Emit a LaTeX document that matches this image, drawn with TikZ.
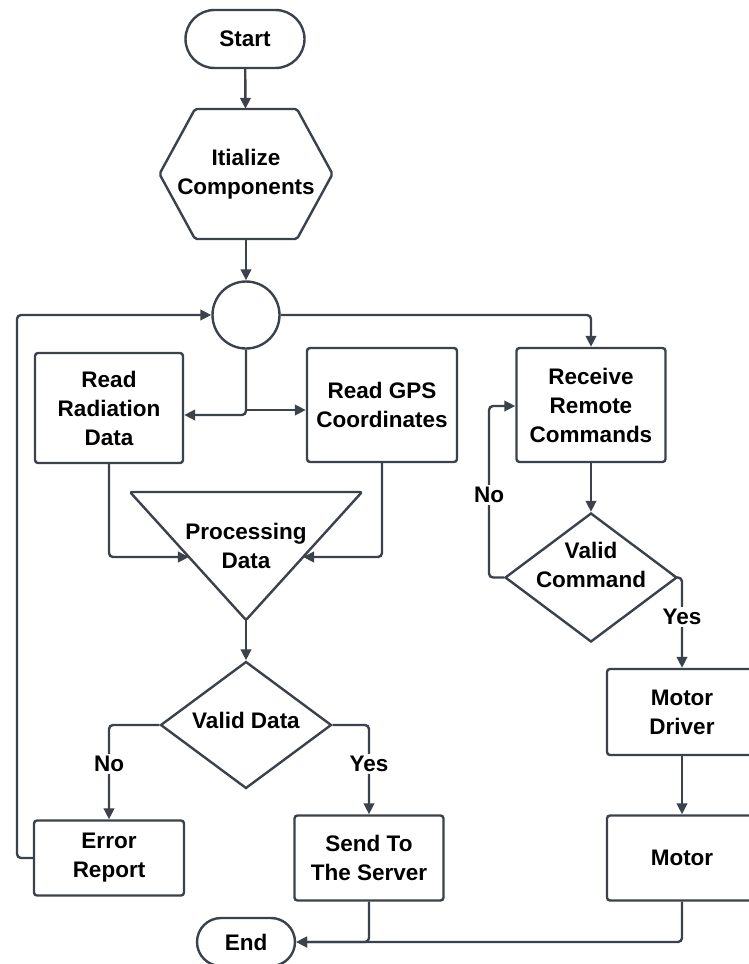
\documentclass[tikz,border=0pt]{standalone}
\usepackage{fontspec}
\setmainfont{Liberation Sans}
\usetikzlibrary{shapes.geometric,shapes.misc,arrows.meta,calc}
\definecolor{ln}{HTML}{3B424B}
\begin{document}
\begin{tikzpicture}[x=1pt,y=-1pt,
  every node/.style={font=\bfseries\fontsize{22.5}{29}\selectfont, text=black, align=center},
  line/.style={draw=ln, line width=2.4pt, rounded corners=4pt},
  arr/.style={line, -{Triangle[length=11pt,width=10.5pt]}},
  box/.style={draw=ln, line width=2.4pt, rounded corners=3pt, inner sep=0pt},
  term/.style={draw=ln, line width=2.4pt, rounded rectangle, inner sep=0pt},
  dia/.style={draw=ln, line width=2.4pt, diamond, inner sep=0pt},
  lbl/.style={fill=white, inner sep=2pt}
]
\useasboundingbox[fill=white] (0,0) rectangle (749,964);

% nodes
\node[term, minimum width=119pt, minimum height=58pt] (start) at (245,39) {Start};
\node[inner sep=0pt, minimum height=130pt] (init) at (246,174) {Itialize\\Components};
\draw[draw=ln, line width=2.4pt, rounded corners=2pt, line join=round]
  ($(init.center)+(-51,-65)$) -- ($(init.center)+(51,-65)$) -- ($(init.center)+(86.5,0)$)
  -- ($(init.center)+(51,65)$) -- ($(init.center)+(-51,65)$) -- ($(init.center)+(-86.5,0)$) -- cycle;
\node[circle, draw=ln, line width=2.4pt, minimum size=67pt, inner sep=0pt] (hub) at (246,315) {};

\node[box, minimum width=148pt, minimum height=110pt] (rad) at (109,408) {Read\\Radiation\\Data};
\node[box, minimum width=150pt, minimum height=114pt] (gps) at (382,405) {Read GPS\\Coordinates};
\node[box, minimum width=149pt, minimum height=114pt] (recv) at (591,405) {Receive\\Remote\\Commands};

\coordinate (tA) at (130,492);
\coordinate (tB) at (362,492);
\coordinate (tC) at (246,620);
\draw[draw=ln, line width=2.4pt, rounded corners=2pt, line join=round] (tA) -- (tB) -- (tC) -- cycle;
\node (proc) at (246,546) {Processing\\Data};

\node[dia, minimum width=171pt, minimum height=127pt, label={[yshift=5pt]center:Valid Data}] (vd) at (246,725) {};
\node[dia, minimum width=172pt, minimum height=129pt, label={[yshift=13pt]center:Valid\\Command}] (vc) at (591,577.5) {};

\node[box, minimum width=150pt, minimum height=75pt] (err) at (109,858) {Error\\Report};
\node[box, minimum width=149pt, minimum height=85pt] (send) at (369,858) {Send To\\The Server};
\node[box, minimum width=150pt, minimum height=86pt] (drv) at (682,712) {Motor\\Driver};
\node[box, minimum width=150pt, minimum height=85pt] (mot) at (682,858) {Motor};
\node[term, minimum width=98pt, minimum height=48pt] (end) at (246,942) {End};

% connectors
\draw[arr] (start) -- (init);
\draw[arr] (init) -- (hub);

\coordinate (lp) at (17,0);
\draw[arr] (err.west) -- (err.west -| lp) -- (hub.west -| lp) -- (hub.west);
\draw[arr] (hub.east) -| (recv.north);

\coordinate (sp) at (246,410);
\coordinate (sl) at (246,415);
\draw[arr] (hub.south) -- (sl) -- (sl -| rad.east);
\draw[arr] (sp) -- (sp -| gps.west);

\coordinate (pl) at ($(tA)!0.508!(tC)$);
\coordinate (pr) at ($(tB)!0.508!(tC)$);
\draw[arr] (rad.south) |- (pl);
\draw[arr] (gps.south) |- (pr);
\draw[arr] (tC) -- (vd.north);

\draw[arr] (vd.west) -| (err.north);
\draw[arr] (vd.east) -| (send.north);

\draw[arr] (send.south) |- (end.east);
\draw[arr] (mot.south) |- (end.east);

\draw[arr] (recv.south) -- (vc.north);
\coordinate (nl) at (489,406);
\draw[arr] (vc.west) -| (nl) -- (nl -| recv.west);
\draw[arr] (vc.east) -| (drv.north);
\draw[arr] (drv) -- (mot);

% labels
\node[lbl] (no1) at (109,764) {No};
\node[lbl] (yes1) at (369,764) {Yes};
\node[lbl] (no2) at (489,495) {No};
\node[lbl] (yes2) at (682,617) {Yes};
\end{tikzpicture}
\end{document}
